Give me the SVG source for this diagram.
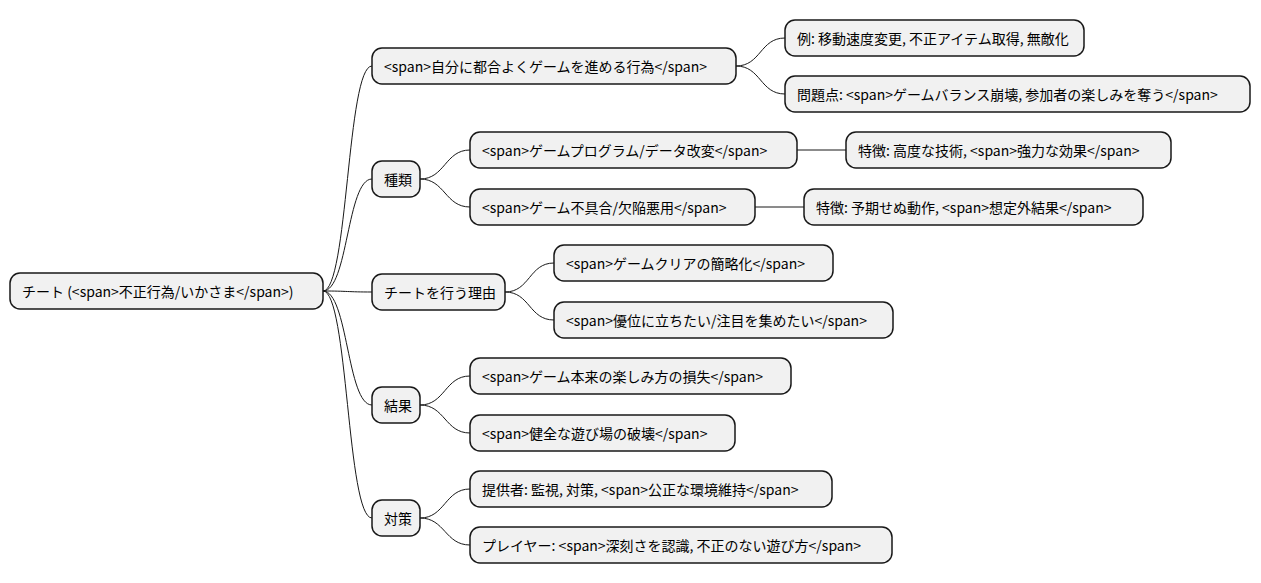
<svg xmlns="http://www.w3.org/2000/svg" width="1261" height="583" viewBox="0 0 1261 583">
<style>
.n rect{fill:#F1F1F1;stroke:#181818;stroke-width:1.5}
.n text{font-family:"Noto Sans CJK JP","DejaVu Sans",sans-serif;font-size:14px;fill:#000;dominant-baseline:central}
#c path{fill:none;stroke:#181818;stroke-width:1}
</style>
<rect width="1261" height="583" fill="#fff"/>
<g id="c">
<path d="M323 291 C348 291,347 66,372 66"/>
<path d="M323 291 C348 291,347 179,372 179"/>
<path d="M323 291 C348 291,347 292,372 292"/>
<path d="M323 291 C348 291,347 405,372 405"/>
<path d="M323 291 C348 291,347 518,372 518"/>
<path d="M736 66 C761 66,760 38,785 38"/>
<path d="M736 66 C761 66,760 94,785 94"/>
<path d="M420 179 C445 179,445 150,470 150"/>
<path d="M420 179 C445 179,445 207,470 207"/>
<path d="M797 150 L846 150"/>
<path d="M755 207 L804 207"/>
<path d="M505 292 C530 292,529 263,554 263"/>
<path d="M505 292 C530 292,529 320,554 320"/>
<path d="M420 405 C445 405,445 376,470 376"/>
<path d="M420 405 C445 405,445 433,470 433"/>
<path d="M420 518 C445 518,445 489,470 489"/>
<path d="M420 518 C445 518,445 545,470 545"/>
</g>
<g id="root" class="n"><rect x="10" y="273" width="313" height="36" rx="10"/><text x="22" y="291">チート (&lt;span&gt;不正行為/いかさま&lt;/span&gt;)</text></g>
<g id="n1" class="n"><rect x="372" y="48" width="364" height="36" rx="10"/><text x="384" y="66">&lt;span&gt;自分に都合よくゲームを進める行為&lt;/span&gt;</text></g>
<g id="n2" class="n"><rect x="372" y="161" width="48" height="36" rx="10"/><text x="384" y="179">種類</text></g>
<g id="n3" class="n"><rect x="372" y="274" width="133" height="36" rx="10"/><text x="384" y="292">チートを行う理由</text></g>
<g id="n4" class="n"><rect x="372" y="387" width="48" height="36" rx="10"/><text x="384" y="405">結果</text></g>
<g id="n5" class="n"><rect x="372" y="500" width="48" height="36" rx="10"/><text x="384" y="518">対策</text></g>
<g id="n11" class="n"><rect x="785" y="20" width="299" height="36" rx="10"/><text x="797" y="38">例: 移動速度変更, 不正アイテム取得, 無敵化</text></g>
<g id="n12" class="n"><rect x="785" y="76" width="465" height="36" rx="10"/><text x="797" y="94">問題点: &lt;span&gt;ゲームバランス崩壊, 参加者の楽しみを奪う&lt;/span&gt;</text></g>
<g id="n21" class="n"><rect x="470" y="132" width="327" height="36" rx="10"/><text x="482" y="150">&lt;span&gt;ゲームプログラム/データ改変&lt;/span&gt;</text></g>
<g id="n22" class="n"><rect x="470" y="189" width="285" height="36" rx="10"/><text x="482" y="207">&lt;span&gt;ゲーム不具合/欠陥悪用&lt;/span&gt;</text></g>
<g id="n211" class="n"><rect x="846" y="132" width="325" height="36" rx="10"/><text x="858" y="150">特徴: 高度な技術, &lt;span&gt;強力な効果&lt;/span&gt;</text></g>
<g id="n221" class="n"><rect x="804" y="189" width="339" height="36" rx="10"/><text x="816" y="207">特徴: 予期せぬ動作, &lt;span&gt;想定外結果&lt;/span&gt;</text></g>
<g id="n31" class="n"><rect x="554" y="245" width="279" height="36" rx="10"/><text x="566" y="263">&lt;span&gt;ゲームクリアの簡略化&lt;/span&gt;</text></g>
<g id="n32" class="n"><rect x="554" y="302" width="339" height="36" rx="10"/><text x="566" y="320">&lt;span&gt;優位に立ちたい/注目を集めたい&lt;/span&gt;</text></g>
<g id="n41" class="n"><rect x="470" y="358" width="321" height="36" rx="10"/><text x="482" y="376">&lt;span&gt;ゲーム本来の楽しみ方の損失&lt;/span&gt;</text></g>
<g id="n42" class="n"><rect x="470" y="415" width="265" height="36" rx="10"/><text x="482" y="433">&lt;span&gt;健全な遊び場の破壊&lt;/span&gt;</text></g>
<g id="n51" class="n"><rect x="470" y="471" width="362" height="36" rx="10"/><text x="482" y="489">提供者: 監視, 対策, &lt;span&gt;公正な環境維持&lt;/span&gt;</text></g>
<g id="n52" class="n"><rect x="470" y="527" width="422" height="36" rx="10"/><text x="482" y="545">プレイヤー: &lt;span&gt;深刻さを認識, 不正のない遊び方&lt;/span&gt;</text></g>
</svg>
